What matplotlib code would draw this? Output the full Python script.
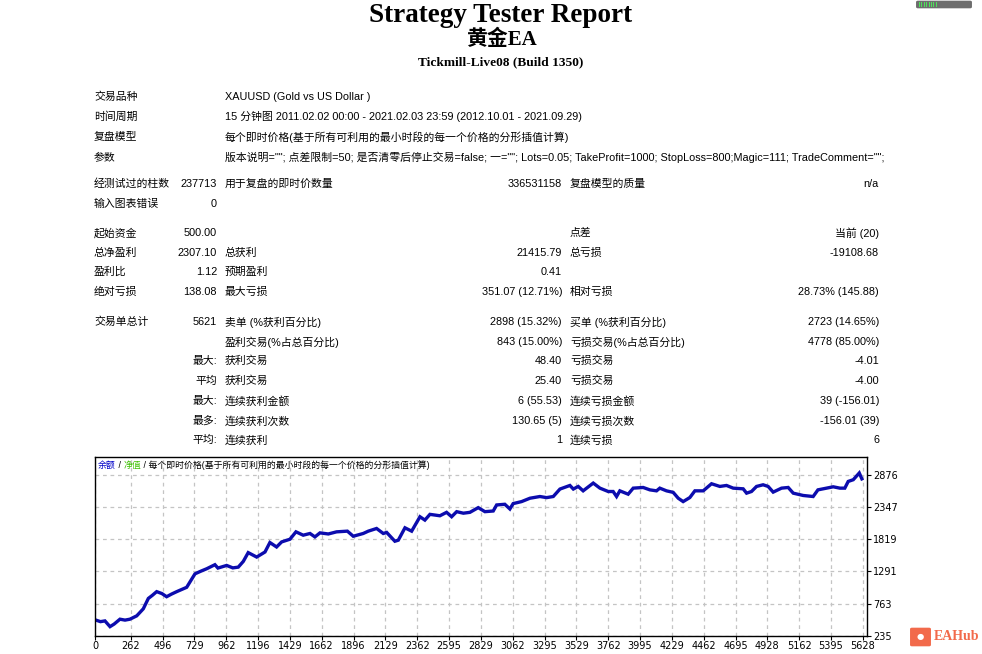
import matplotlib
matplotlib.use('Agg')
import matplotlib.pyplot as plt
from matplotlib.patches import FancyBboxPatch, Rectangle

# ---- report header ----
title = 'Strategy Tester Report'
ea_name = '黄金EA'
server = 'Tickmill-Live08 (Build 1350)'

info_labels = ['交易品种', '时间周期', '复盘模型', '参数']
info_values = [
    'XAUUSD (Gold vs US Dollar )',
    '15 分钟图 2011.02.02 00:00 - 2021.02.03 23:59 (2012.10.01 - 2021.09.29)',
    '每个即时价格(基于所有可利用的最小时段的每一个价格的分形插值计算)',
    '版本说明=""; 点差限制=50; 是否清零后停止交易=false; 一=""; Lots=0.05; '
    'TakeProfit=1000; StopLoss=800;Magic=111; TradeComment="";',
]

# six cells per row: label, value, label, value, label, value
stat_rows = [
    ['经测试过的柱数', '237713', '用于复盘的即时价数量', '336531158', '复盘模型的质量', 'n/a'],
    ['输入图表错误', '0', '', '', '', ''],
    ['起始资金', '500.00', '', '', '点差', '当前 (20)'],
    ['总净盈利', '2307.10', '总获利', '21415.79', '总亏损', '-19108.68'],
    ['盈利比', '1.12', '预期盈利', '0.41', '', ''],
    ['绝对亏损', '138.08', '最大亏损', '351.07 (12.71%)', '相对亏损', '28.73% (145.88)'],
    ['交易单总计', '5621', '卖单 (%获利百分比)', '2898 (15.32%)', '买单 (%获利百分比)', '2723 (14.65%)'],
    ['', '', '盈利交易(%占总百分比)', '843 (15.00%)', '亏损交易(%占总百分比)', '4778 (85.00%)'],
    ['', '最大:', '获利交易', '48.40', '亏损交易', '-4.01'],
    ['', '平均', '获利交易', '25.40', '亏损交易', '-4.00'],
    ['', '最大:', '连续获利金额', '6 (55.53)', '连续亏损金额', '39 (-156.01)'],
    ['', '最多:', '连续获利次数', '130.65 (5)', '连续亏损次数', '-156.01 (39)'],
    ['', '平均:', '连续获利', '1', '连续亏损', '6'],
]

# ---- balance curve (trade number, balance) ----
trades = [0, 40, 73, 110, 140, 183, 220, 256, 306, 354, 391, 420, 452, 490,
          525, 560, 599, 672, 733, 780, 819, 879, 901, 965, 1010, 1050, 1087,
          1123, 1185, 1246, 1282, 1331, 1368, 1429, 1473, 1526, 1576, 1612,
          1649, 1710, 1771, 1850, 1893, 1966, 2003, 2064, 2113, 2138, 2198,
          2223, 2272, 2321, 2382, 2418, 2455, 2528, 2577, 2614, 2651, 2700,
          2748, 2809, 2858, 2919, 2944, 3004, 3041, 3065, 3127, 3188, 3261,
          3310, 3359, 3408, 3481, 3506, 3542, 3578, 3652, 3701, 3762, 3798,
          3823, 3847, 3908, 3945, 4018, 4067, 4116, 4140, 4189, 4238, 4275,
          4311, 4360, 4397, 4458, 4519, 4580, 4629, 4678, 4751, 4776, 4812,
          4849, 4897, 4934, 4971, 5032, 5081, 5118, 5191, 5264, 5299, 5362,
          5411, 5460, 5496, 5521, 5558, 5602, 5621]
balance = [500, 470, 482, 388, 430, 510, 495, 510, 565, 680, 850, 900, 961,
           930, 878, 920, 961, 1032, 1253, 1300, 1336, 1402, 1347, 1390, 1350,
           1362, 1456, 1600, 1527, 1610, 1765, 1692, 1775, 1819, 1940, 1885,
           1913, 1857, 1923, 1905, 1940, 1951, 1868, 1913, 1951, 1995, 1913,
           1930, 1786, 1803, 2006, 1951, 2187, 2132, 2226, 2203, 2259, 2187,
           2270, 2245, 2259, 2336, 2270, 2281, 2380, 2391, 2314, 2402, 2435,
           2490, 2518, 2500, 2518, 2640, 2699, 2640, 2683, 2611, 2738, 2655,
           2600, 2600, 2518, 2611, 2556, 2655, 2666, 2627, 2611, 2655, 2611,
           2586, 2490, 2435, 2501, 2611, 2611, 2727, 2683, 2699, 2655, 2644,
           2573, 2600, 2683, 2710, 2683, 2590, 2655, 2666, 2573, 2535, 2518,
           2627, 2655, 2677, 2655, 2655, 2765, 2793, 2903, 2807]

x_ticks = [0, 262, 496, 729, 962, 1196, 1429, 1662, 1896, 2129, 2362, 2595,
           2829, 3062, 3295, 3529, 3762, 3995, 4229, 4462, 4695, 4928, 5162,
           5395, 5628]
y_ticks = [235, 763, 1291, 1819, 2347, 2876]

legend_parts = ['余额', ' / ', '净值', ' / 每个即时价格(基于所有可利用的最小时段的每一个价格的分形插值计算)']
legend_colors = ['#0000c8', '#000000', '#3cc000', '#000000']

W, H = 982, 654
fig = plt.figure(figsize=(W / 100, H / 100), dpi=100)
fig.patch.set_facecolor('white')


def fx(x):
    return x / W


def fy(y):
    return 1 - y / H


cjk = ['Liberation Sans', 'Noto Sans CJK SC']
serif = ['Liberation Serif', 'Noto Sans CJK SC']
fs = 7.8

fig.text(fx(501), fy(15), title, ha='center', va='center', family=serif,
         fontsize=19.5, fontweight='bold')
fig.text(fx(501), fy(40), ea_name, ha='center', va='center', family=serif,
         fontsize=15, fontweight='bold')
fig.text(fx(501), fy(62), server, ha='center', va='center', family=serif,
         fontsize=9.6, fontweight='bold')

for i, (lab, val) in enumerate(zip(info_labels, info_values)):
    y = 97 + i * 20
    fig.text(fx(94), fy(y), lab, ha='left', va='center', family=cjk, fontsize=fs)
    fig.text(fx(225), fy(y), val, ha='left', va='center', family=cjk, fontsize=fs)

row_y = [184, 204, 233, 253, 272, 292, 322, 342, 361, 381, 401, 421, 440]
cell_x = [94, 217, 225, 562, 570, 879]
cell_ha = ['left', 'right', 'left', 'right', 'left', 'right']
for y, row in zip(row_y, stat_rows):
    for x, ha, cell in zip(cell_x, cell_ha, row):
        if cell:
            fig.text(fx(x), fy(y), cell, ha=ha, va='center', family=cjk, fontsize=fs)

# ---- chart ----
ax = fig.add_axes([fx(95), fy(636), (866.5 - 95) / W, (636 - 456.5) / H])
ax.plot(trades, balance, color='#0c0cae', lw=2.4, solid_joinstyle='miter')
ax.set_xlim(0, 5655)
ax.set_ylim(235, 3173)
ax.set_xticks(x_ticks)
ax.set_yticks(y_ticks)
ax.yaxis.tick_right()
ax.tick_params(axis='both', labelsize=7, length=3, width=0.8, colors='black')
ax.tick_params(axis='x', pad=0.8)
ax.tick_params(axis='y', pad=1.8)
ax.grid(True, color='#c4c4c4', linestyle=(0, (3, 3)), linewidth=0.9)
for s in ax.spines.values():
    s.set_linewidth(1)
    s.set_color('black')

fig.canvas.draw()
renderer = fig.canvas.get_renderer()
xpos = 98
for part, col in zip(legend_parts, legend_colors):
    t = fig.text(fx(xpos), fy(465), part, ha='left', va='center', family=cjk,
                 fontsize=6.4, color=col)
    xpos += t.get_window_extent(renderer).width

# small artefacts from the screenshot
fig.patches.append(FancyBboxPatch((fx(918), fy(7)), fx(52), 5 / H,
                                  boxstyle='round,pad=0.002', transform=fig.transFigure,
                                  facecolor='#6d6d6d', edgecolor='none'))
for k in range(8):
    fig.patches.append(Rectangle((fx(919 + k * 2.4), fy(6.5)), 0.9 / W, 4 / H,
                                 transform=fig.transFigure, facecolor='#4ee05a',
                                 edgecolor='none'))
fig.patches.append(FancyBboxPatch((fx(912), fy(645)), fx(17), 16 / H,
                                  boxstyle='round,pad=0.002', transform=fig.transFigure,
                                  facecolor='#f26a4b', edgecolor='none'))
fig.text(fx(920.5), fy(637), '●', ha='center', va='center', color='white', fontsize=6)
fig.text(fx(934), fy(637), 'EAHub', ha='left', va='center', family=serif,
         fontsize=10, fontweight='bold', color='#f26a4b')

fig.savefig('out.png', dpi=100, facecolor='white')
